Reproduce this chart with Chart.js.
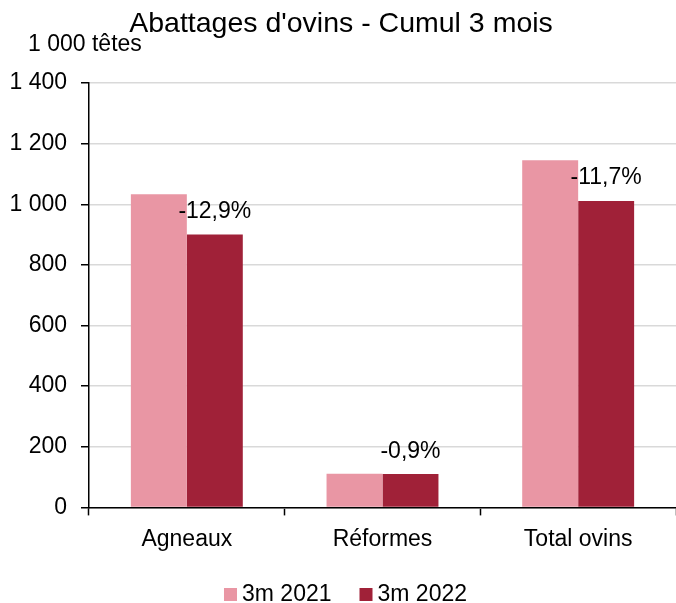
<!DOCTYPE html>
<html>
<head>
<meta charset="utf-8">
<script src="https://cdn.jsdelivr.net/npm/chart.js@4/dist/chart.umd.min.js"></script>
<style>
  html, body { margin: 0; padding: 0; background: #ffffff; }
  #wrap { width: 676px; height: 603px; position: relative; }
</style>
</head>
<body>
<div id="wrap"><canvas id="c" width="676" height="603"></canvas></div>
<script>
// ---- data ----
const categories = ["Agneaux", "Réformes", "Total ovins"];
const seriesNames = ["3m 2021", "3m 2022"];
const values2021 = [1033, 111, 1145];
const values2022 = [900, 110, 1011];
const changeLabels = ["-12,9%", "-0,9%", "-11,7%"];
const yTickValues = [0, 200, 400, 600, 800, 1000, 1200, 1400];
const yTickLabels = ["0", "200", "400", "600", "800", "1 000", "1 200", "1 400"];
const chartTitle = "Abattages d'ovins - Cumul 3 mois";
const unitLabel = "1 000 têtes";

const FONT = '"Liberation Sans", Arial, sans-serif';
const colors = ["#E996A4", "#A02138"];

const overlay = {
  id: 'overlay',
  afterDraw(chart) {
    const ctx = chart.ctx;
    ctx.save();
    ctx.fillStyle = '#000';
    // title
    ctx.font = '28.5px ' + FONT;
    ctx.textAlign = 'center';
    ctx.textBaseline = 'alphabetic';
    ctx.fillText(chartTitle, 341, 32);
    // unit
    ctx.font = '23px ' + FONT;
    ctx.textAlign = 'left';
    ctx.fillText(unitLabel, 28, 51);
    // change labels over 2022 bars
    const meta = chart.getDatasetMeta(1);
    ctx.font = '23px ' + FONT;
    ctx.textAlign = 'center';
    meta.data.forEach((bar, i) => {
      ctx.fillText(changeLabels[i], bar.x, bar.y - 16.5);
    });
    // legend
    ctx.font = '23px ' + FONT;
    ctx.textAlign = 'left';
    const box = 13, gap = 5, itemGap = 28;
    const ds = chart.data.datasets;
    let total = 0;
    const widths = ds.map(d => ctx.measureText(d.label).width);
    widths.forEach((w, i) => { total += box + gap + w + (i < ds.length - 1 ? itemGap : 0); });
    let x = 345.5 - total / 2;
    const yBase = 601;
    ds.forEach((d, i) => {
      ctx.fillStyle = d.backgroundColor;
      ctx.fillRect(x, 588, box, box);
      ctx.fillStyle = '#000';
      ctx.fillText(d.label, x + box + gap, yBase);
      x += box + gap + widths[i] + itemGap;
    });
    ctx.restore();
  }
};

new Chart(document.getElementById('c'), {
  type: 'bar',
  data: {
    labels: categories,
    datasets: [
      { label: seriesNames[0], data: values2021, backgroundColor: colors[0] },
      { label: seriesNames[1], data: values2022, backgroundColor: colors[1] }
    ]
  },
  options: {
    responsive: false,
    animation: false,
    events: [],
    layout: { padding: { top: 83, left: 0, right: 0, bottom: 40 } },
    plugins: { legend: { display: false }, title: { display: false }, tooltip: { enabled: false } },
    datasets: { bar: { categoryPercentage: 0.572, barPercentage: 1.0 } },
    scales: {
      x: {
        grid: { display: true, drawOnChartArea: false, drawTicks: true, tickLength: 8, tickColor: '#000', tickWidth: 1.5, offset: true },
        border: { display: true, color: '#000', width: 1.5 },
        ticks: { color: '#000', font: { family: FONT, size: 23 }, padding: 10, maxRotation: 0 }
      },
      y: {
        min: 0, max: 1400,
        afterBuildTicks(scale) { scale.ticks = yTickValues.map(v => ({ value: v })); },
        afterFit(scale) { scale.width = 89; },
        grid: { color: '#d9d9d9', lineWidth: 1.5, drawTicks: true, tickLength: 8, tickColor: '#000', tickWidth: 1.5 },
        border: { display: true, color: '#000', width: 1.5 },
        ticks: {
          color: '#000', font: { family: FONT, size: 23 }, padding: 14,
          callback(value, index) { return yTickLabels[yTickValues.indexOf(value)]; }
        }
      }
    }
  },
  plugins: [overlay]
});
</script>
</body>
</html>
